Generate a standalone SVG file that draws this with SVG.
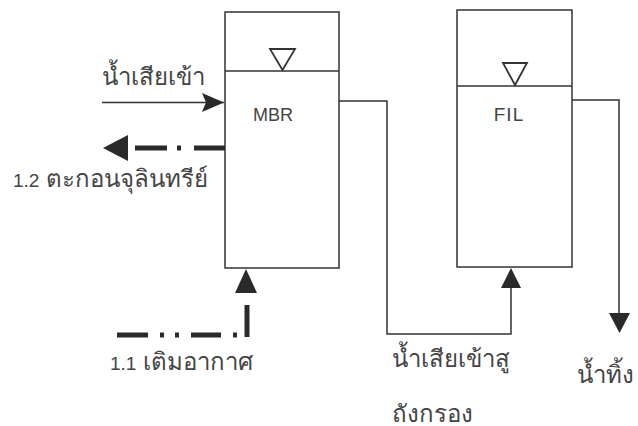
<svg xmlns="http://www.w3.org/2000/svg" width="638" height="426" viewBox="0 0 638 426">
<style>
.box{fill:none;stroke:#333;stroke-width:1.5}
.ln{fill:none;stroke:#333;stroke-width:1.5}
.thick{fill:none;stroke:#2a2a2a;stroke-width:5}
.head{fill:#2a2a2a;stroke:none}
.tri{fill:none;stroke:#333;stroke-width:1.8}
.lbl{font-family:"Liberation Sans","Noto Sans",sans-serif;font-size:24px;fill:#444}
.num{font-size:19px}
.nm{font-family:"Liberation Sans","Noto Sans",sans-serif;font-size:18px;fill:#444}
</style>
<rect width="638" height="426" fill="#fff"/>
<g id="MBR">
<rect class="box" x="225" y="12" width="114" height="256"/>
<line class="ln" x1="225" y1="71" x2="339" y2="71"/>
<polygon class="tri" points="270,49 295,49 282.5,70"/>
<text class="nm" x="273" y="121" text-anchor="middle">MBR</text>
</g>
<g id="FIL">
<rect class="box" x="457" y="10" width="115" height="257"/>
<line class="ln" x1="457" y1="86" x2="572" y2="86"/>
<polygon class="tri" points="503,63 527,63 515,85"/>
<text class="nm" x="509" y="121" text-anchor="middle" style="font-size:19px;letter-spacing:1px">FIL</text>
</g>
<g id="connectors">
<line class="ln" x1="102" y1="102.5" x2="224" y2="102.5"/>
<polygon class="head" points="224,102.5 202,93 206,102.5 202,112"/>
<path class="thick" d="M135,148 H167 M177,148 H181 M194,148 H225" stroke-width="5"/>
<polygon class="head" points="103,148 128,135 128,161"/>
<path class="thick" d="M117,335 H148 M160,335 H164 M175,335 H179 M191,335 H221 M233,335 H237" stroke-width="4"/>
<line class="thick" x1="247" y1="305" x2="247" y2="337" stroke-width="4"/>
<polygon class="head" points="246,269 235,293 257,293"/>
<path class="ln" d="M339,101 H387 V334 H511 V288"/>
<polygon class="head" points="511,268 501,288 521,288"/>
<path class="ln" d="M572,100 H619 V314" stroke-width="2.5"/>
<polygon class="head" points="619.5,333 609,313 630,313"/>
</g>
<g id="labels">
<text class="lbl" x="102" y="85">น้ำเสียเข้า</text>
<text class="lbl" x="13" y="187"><tspan class="num">1.2</tspan> ตะกอนจุลินทรีย์</text>
<text class="lbl" x="110" y="370"><tspan class="num">1.1</tspan> เติมอากาศ</text>
<text class="lbl" x="392" y="367">น้ำเสียเข้าสู</text>
<text class="lbl" x="392" y="422">ถังกรอง</text>
<text class="lbl" x="577" y="383">น้ำทิ้ง</text>
</g>
</svg>
